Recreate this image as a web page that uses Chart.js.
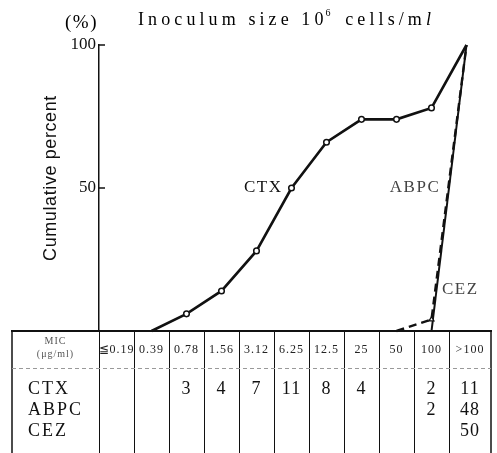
<!DOCTYPE html>
<html><head><meta charset="utf-8">
<script src="https://cdn.jsdelivr.net/npm/chart.js@4/dist/chart.umd.min.js"></script>
<style>html,body{margin:0;padding:0;background:#fff;}</style>
</head><body>
<canvas id="c" width="497" height="453"></canvas>
<script>
// ---- data ----
const micLabels = ['≦0.19','0.39','0.78','1.56','3.12','6.25','12.5','25','50','100','>100'];
const ctxCumulative  = [null, 0, 6, 14, 28, 50, 66, 74, 74, 78, 100];
const abpcCumulative = [null, null, null, null, null, null, null, null, 0, 4, 100];
const cezCumulative  = [null, null, null, null, null, null, null, null, null, 0, 100];
const ctxCounts  = ['', '', '3', '4', '7', '11', '8', '4', '', '2', '11'];
const abpcCounts = ['', '', '', '', '', '', '', '', '', '2', '48'];
const cezCounts  = ['', '', '', '', '', '', '', '', '', '', '50'];
const drugNames = ['CTX', 'ABPC', 'CEZ'];
const yTickValues = [50, 100];
const titleParts = ['Inoculum size 10', '6', ' cells/m', 'l'];
const yTitle = 'Cumulative percent';
const unitLabel = '(%)';
const micHeader = ['MIC', '(μg/ml)'];

const toPts = arr => arr.map((v, i) => ({x: i, y: v})).filter(p => p.y !== null);
const midMarker = c => (c.raw && c.raw.y > 0 && c.raw.y < 100) ? 2.8 : 0;

const SERIF = "'Liberation Serif', 'DejaVu Serif', serif";
const SANS = "'Liberation Sans', Arial, sans-serif";

const decor = {
  id: 'decor',
  afterDraw(chart) {
    const {ctx, chartArea: ca, scales: {x, y}} = chart;
    ctx.save();
    ctx.fillStyle = '#000';
    ctx.strokeStyle = '#111';

    // title
    ctx.textBaseline = 'alphabetic';
    ctx.textAlign = 'left';
    let tx = 138;
    const ty = 25;
    ctx.letterSpacing = '4.1px';
    ctx.font = `18px ${SERIF}`;
    ctx.fillText(titleParts[0], tx, ty); tx += ctx.measureText(titleParts[0]).width;
    ctx.font = `10px ${SERIF}`;
    ctx.fillText(titleParts[1], tx - 2, ty - 9); tx += ctx.measureText(titleParts[1]).width;
    ctx.font = `18px ${SERIF}`;
    ctx.fillText(titleParts[2], tx, ty); tx += ctx.measureText(titleParts[2]).width;
    ctx.font = `italic 18px ${SERIF}`;
    ctx.fillText(titleParts[3], tx, ty);

    // (%)
    ctx.letterSpacing = '1.5px';
    ctx.font = `19px ${SERIF}`;
    ctx.fillText(unitLabel, 65, 28);

    // y title
    ctx.save();
    ctx.translate(51, 178);
    ctx.rotate(-Math.PI / 2);
    ctx.textAlign = 'center';
    ctx.textBaseline = 'middle';
    ctx.letterSpacing = '0.6px';
    ctx.font = `18px ${SANS}`;
    ctx.fillStyle = '#111';
    ctx.fillText(yTitle, 0, 0);
    ctx.restore();

    // inward y ticks
    ctx.letterSpacing = '0px';
    ctx.lineWidth = 1.5;
    yTickValues.forEach(v => {
      const py = y.getPixelForValue(v);
      ctx.beginPath(); ctx.moveTo(ca.left, py); ctx.lineTo(ca.left + 6, py); ctx.stroke();
    });

    // series labels
    ctx.font = `17px ${SERIF}`;
    ctx.letterSpacing = '1.5px';
    ctx.textBaseline = 'middle';
    ctx.textAlign = 'right';
    ctx.fillStyle = '#111';
    ctx.fillText(drugNames[0], x.getPixelForValue(5) - 9, y.getPixelForValue(50));
    ctx.fillStyle = '#444';
    ctx.fillText(drugNames[1], x.getPixelForValue(9.25), y.getPixelForValue(50));
    ctx.textAlign = 'left';
    ctx.fillText(drugNames[2], x.getPixelForValue(9.3), y.getPixelForValue(14.5));

    // table
    const tLeft = 12, tTop = ca.bottom, tRight = ca.right, tBottom = chart.height;
    const hdrBottom = tTop + 37;
    ctx.strokeStyle = '#111';
    ctx.lineWidth = 2;
    ctx.beginPath(); ctx.moveTo(tLeft - 1, tTop); ctx.lineTo(tRight + 1, tTop); ctx.stroke();
    ctx.lineWidth = 1.5;
    ctx.beginPath(); ctx.moveTo(tLeft, tTop); ctx.lineTo(tLeft, tBottom); ctx.stroke();
    ctx.beginPath(); ctx.moveTo(tRight, tTop); ctx.lineTo(tRight, tBottom); ctx.stroke();
    ctx.lineWidth = 1;
    const bounds = [];
    for (let i = 0; i < micLabels.length; i++) bounds.push(x.getPixelForValue(i - 0.5));
    bounds.push(tRight);
    bounds.slice(0, -1).forEach(bx => {
      ctx.beginPath(); ctx.moveTo(Math.round(bx) + 0.5, tTop); ctx.lineTo(Math.round(bx) + 0.5, tBottom); ctx.stroke();
    });
    ctx.strokeStyle = '#999';
    ctx.setLineDash([4, 3]);
    ctx.beginPath(); ctx.moveTo(tLeft, hdrBottom + 0.5); ctx.lineTo(tRight, hdrBottom + 0.5); ctx.stroke();
    ctx.setLineDash([]);

    // header text
    ctx.textAlign = 'center';
    ctx.textBaseline = 'middle';
    ctx.fillStyle = '#555';
    ctx.letterSpacing = '1px';
    ctx.font = `10px ${SERIF}`;
    const lblCx = (tLeft + bounds[0]) / 2;
    ctx.fillText(micHeader[0], lblCx, tTop + 10);
    ctx.fillText(micHeader[1], lblCx, tTop + 23);
    ctx.fillStyle = '#222';
    ctx.font = `12px ${SERIF}`;
    micLabels.forEach((lab, i) => {
      ctx.fillText(lab, (bounds[i] + bounds[i + 1]) / 2, tTop + 19);
    });

    // body
    ctx.fillStyle = '#111';
    ctx.font = `18px ${SERIF}`;
    ctx.letterSpacing = '2px';
    const rowY = [tTop + 58, tTop + 79, tTop + 100];
    ctx.textAlign = 'left';
    drugNames.forEach((n, r) => ctx.fillText(n, 28, rowY[r]));
    ctx.textAlign = 'center';
    ctx.letterSpacing = '1px';
    [ctxCounts, abpcCounts, cezCounts].forEach((row, r) => {
      row.forEach((v, i) => {
        if (v !== '') ctx.fillText(v, (bounds[i] + bounds[i + 1]) / 2, rowY[r]);
      });
    });
    ctx.restore();
  }
};

new Chart(document.getElementById('c'), {
  type: 'line',
  data: {
    datasets: [
      {
        label: 'CTX', data: toPts(ctxCumulative),
        borderColor: '#111', borderWidth: 2.6, backgroundColor: '#fff',
        pointRadius: midMarker, pointBorderWidth: 1.5, pointBackgroundColor: '#fff', pointBorderColor: '#111',
        pointStyle: 'circle', tension: 0, clip: 10
      },
      {
        label: 'ABPC', data: toPts(abpcCumulative),
        borderColor: '#111', borderWidth: 2.4, borderDash: [8, 5],
        pointRadius: midMarker, pointBorderWidth: 1.3, pointBackgroundColor: '#fff', pointBorderColor: '#111',
        pointStyle: 'triangle', tension: 0, clip: 10
      },
      {
        label: 'CEZ', data: toPts(cezCumulative),
        borderColor: '#111', borderWidth: 2, pointRadius: 0, tension: 0, clip: 10
      }
    ]
  },
  options: {
    responsive: false, animation: false, devicePixelRatio: 1,
    layout: {padding: {top: 45, bottom: 122, left: 0, right: 6}},
    plugins: {legend: {display: false}, tooltip: {enabled: false}, title: {display: false}},
    scales: {
      x: {type: 'linear', min: -0.5, max: 10.7, display: false},
      y: {
        min: 0, max: 100,
        afterFit(s) { s.width = 99; },
        ticks: {
          stepSize: 50, padding: 3, color: '#111',
          font: {family: SERIF, size: 17},
          callback: v => yTickValues.includes(v) ? String(v) : ''
        },
        grid: {drawOnChartArea: false, drawTicks: false},
        border: {display: true, color: '#111', width: 1.5}
      }
    }
  },
  plugins: [decor]
});
</script>
</body></html>
